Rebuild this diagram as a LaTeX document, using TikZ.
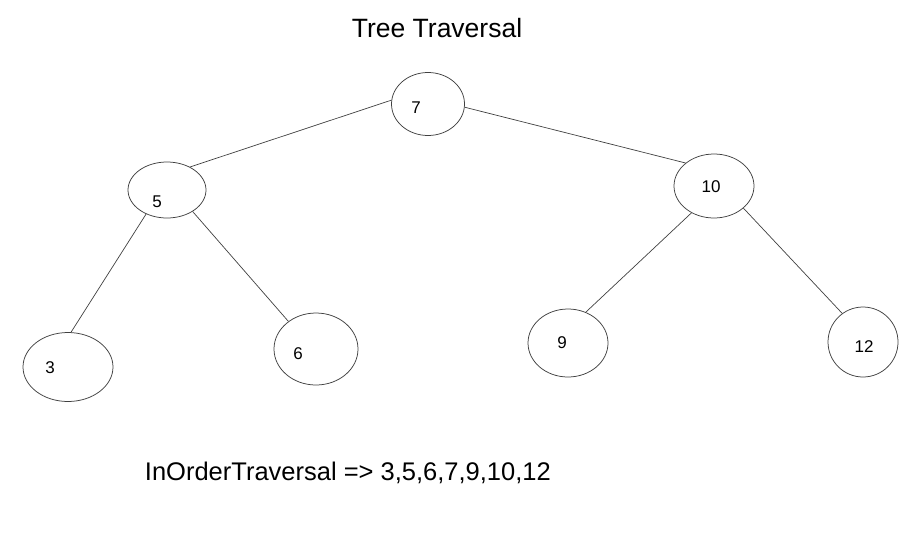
\documentclass[tikz,border=0pt]{standalone}
\usepackage{fontspec}
\setmainfont{Liberation Sans}
\usetikzlibrary{shapes.geometric}
\begin{document}
\begin{tikzpicture}[x=1pt,y=-1pt,
  treenode/.style={draw=black!75, line width=0.75pt, ellipse, inner sep=0pt},
  numlabel/.style={anchor=base, inner sep=0pt, font=\fontsize{17}{20}\selectfont},
  edge/.style={draw=black!75, line width=0.7pt}]
\useasboundingbox (0,0) rectangle (912,536);
% ellipses
\node[treenode, minimum width=73pt, minimum height=63pt] (n7)  at (428,104) {};
\node[treenode, minimum width=78pt, minimum height=56pt] (n5)  at (167,190) {};
\node[treenode, minimum width=80pt, minimum height=64pt] (n10) at (714,186) {};
\node[treenode, minimum width=90pt, minimum height=69pt] (n3)  at (68,367) {};
\node[treenode, minimum width=84pt, minimum height=72pt] (n6)  at (316,349) {};
\node[treenode, minimum width=80pt, minimum height=68pt] (n9)  at (568,343) {};
\node[treenode, minimum width=70pt, minimum height=70pt] (n12) at (863,342) {};
% labels
\node[numlabel] (t7)  at (416,113) {7};
\node[numlabel] (t5)  at (157,207) {5};
\node[numlabel] (t10) at (711,192) {10};
\node[numlabel] (t3)  at (50,373) {3};
\node[numlabel] (t6)  at (298,359) {6};
\node[numlabel] (t9)  at (562,348) {9};
\node[numlabel] (t12) at (864,352) {12};
% edges
\draw[edge] (n7.174) -- (n5.45);
\draw[edge] (n7.355) -- (n10.141);
\draw[edge] (n5.229) -- (n3.85);
\draw[edge] (n5.320) -- (n6.135);
\draw[edge] (n10.230) -- (n9.60);
\draw[edge] (n10.323) -- (n12.126);
% texts
\node[anchor=base, inner sep=0pt, font=\fontsize{26.5}{30}\selectfont] (title) at (437,37) {Tree Traversal};
\node[anchor=base east, inner sep=0pt, font=\fontsize{25.5}{29}\selectfont] (result) at (551,480) {InOrderTraversal => 3,5,6,7,9,10,12};
\end{tikzpicture}
\end{document}
